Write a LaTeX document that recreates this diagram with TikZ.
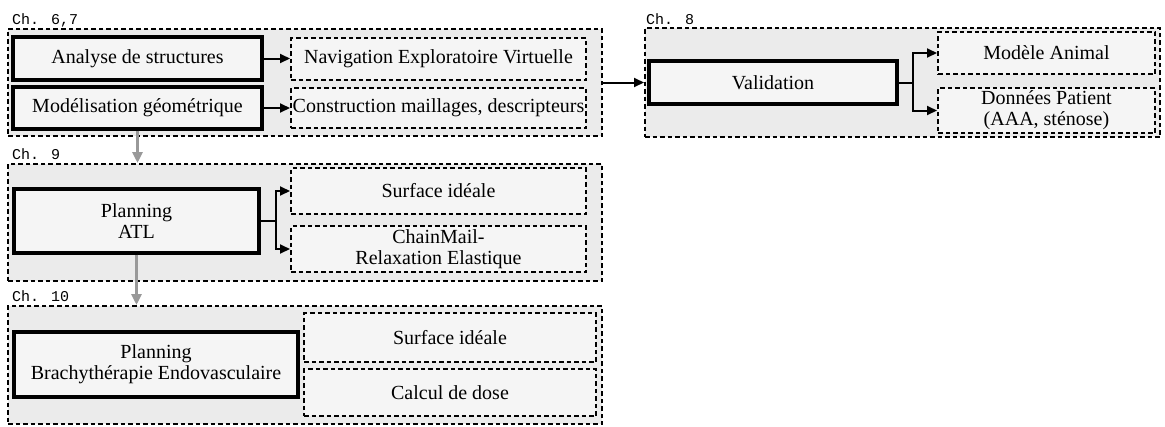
\documentclass[tikz,border=0pt]{standalone}
\usepackage{fontspec}
\setmainfont{Liberation Serif}
\newfontfamily\chapfont{Liberation Mono}
\usetikzlibrary{arrows.meta}
\definecolor{groupfill}{HTML}{EBEBEB}
\definecolor{boxfill}{HTML}{F5F5F5}
\definecolor{grayarrow}{HTML}{999999}
\tikzset{
  grp/.style={draw=black, fill=groupfill, dash pattern=on 4.5pt off 3pt, line width=2pt, inner sep=0pt},
  mainbox/.style={draw=black, fill=boxfill, line width=3.2pt, inner sep=0pt, align=center, font=\fontsize{20}{21}\selectfont},
  subbox/.style={draw=black, fill=boxfill, dash pattern=on 4.5pt off 3pt, line width=2pt, inner sep=0pt, align=center, font=\fontsize{20}{21}\selectfont},
  chap/.style={anchor=base west, inner sep=0pt, font=\chapfont\fontsize{15}{16}\selectfont},
  conn/.style={draw=black, line width=2pt, -{Triangle[length=10pt,width=9pt]}},
  down/.style={draw=grayarrow, line width=3pt, -{Triangle[length=11pt,width=10pt]}},
}
\begin{document}
\begin{tikzpicture}[x=1pt,y=-1pt]
\useasboundingbox (0,0) rectangle (1165,426);
% groups
\node[grp, minimum width=594pt, minimum height=107pt] (g1) at (305,82.5) {};
\node[grp, minimum width=515pt, minimum height=109pt] (g8) at (902.5,82.5) {};
\node[grp, minimum width=594pt, minimum height=117pt] (g9) at (305,222.5) {};
\node[grp, minimum width=594pt, minimum height=118pt] (g10) at (305,365) {};
% chapter labels
\node[chap] (l1) at (12,24) {Ch. 6,7};
\node[chap] (l8) at (646,24) {Ch. 8};
\node[chap] (l9) at (12,159) {Ch. 9};
\node[chap] (l10) at (12,301) {Ch. 10};
% Ch. 6,7
\node[mainbox, minimum width=249pt, minimum height=43pt] (ana) at (137.5,58.5) {Analyse de structures};
\node[mainbox, minimum width=249pt, minimum height=42pt] (mod) at (137.5,108) {Modélisation géométrique};
\node[subbox, minimum width=295pt, minimum height=42pt] (nav) at (438.5,59) {Navigation Exploratoire Virtuelle};
\node[subbox, minimum width=295pt, minimum height=40pt] (con) at (438.5,108) {Construction maillages, descripteurs};
% Ch. 8
\node[mainbox, minimum width=248pt, minimum height=43pt] (val) at (773,82.5) {Validation};
\node[subbox, minimum width=217pt, minimum height=42pt] (ani) at (1046.5,53) {Modèle Animal};
\node[subbox, minimum width=217pt, minimum height=45pt] (pat) at (1046.5,110.5) {Données Patient\\(AAA, sténose)};
% Ch. 9
\node[mainbox, minimum width=245pt, minimum height=64pt] (atl) at (136.5,221) {Planning\\ATL};
\node[subbox, minimum width=295pt, minimum height=46pt] (surf9) at (438.5,191) {Surface idéale};
\node[subbox, minimum width=295pt, minimum height=46pt] (chain) at (438.5,249) {ChainMail-\\Relaxation Elastique};
% Ch. 10
\node[mainbox, minimum width=284pt, minimum height=65pt] (bra) at (156,364.5) {Planning\\Brachythérapie Endovasculaire};
\node[subbox, minimum width=292pt, minimum height=49pt] (surf10) at (450,337.5) {Surface idéale};
\node[subbox, minimum width=292pt, minimum height=47pt] (dose) at (450,392.5) {Calcul de dose};
% connectors
\draw[conn] (ana.east) -- (ana.east -| nav.west);
\draw[conn] (mod.east) -- (mod.east -| con.west);
\draw[conn] (g1.east) -- (g8.west);
\draw[conn] (val.east) -- ++(14,0) |- (ani.west);
\draw[conn] (val.east) -- ++(14,0) |- (pat.west);
\draw[conn] (atl.east) -- ++(15,0) |- (surf9.west);
\draw[conn] (atl.east) -- ++(15,0) |- (chain.west);
\draw[down] (mod.south) -- (mod.south |- g9.north);
\draw[down] (atl.south) -- (atl.south |- g10.north);
\end{tikzpicture}
\end{document}
